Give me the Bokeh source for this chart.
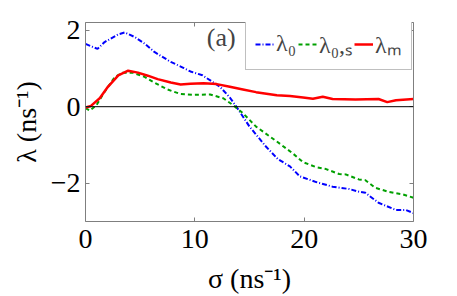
from bokeh.plotting import figure
from bokeh.models import (Range1d, FixedTicker, LinearAxis, Span, Legend, LegendItem,
                          Label, CustomJSTickFormatter)
from bokeh.embed import file_html
from bokeh.resources import INLINE

# ---- data ----
sigma_l0 = [0, 1.1, 1.75, 3.0, 3.6, 4.5, 5.4, 6.3, 7.8, 9.0, 9.6, 10.7, 12.3, 13.2, 13.8,
            15.0, 16.5, 17.6, 18.7, 19.6, 21.1, 22.6, 24.1, 25.0, 25.6, 26.8, 28.4, 29.3, 30]
lam_0 = [1.64, 1.51, 1.69, 1.89, 1.94, 1.82, 1.65, 1.43, 1.17, 1.01, 0.92, 0.82, 0.52, 0.24, 0.0,
         -0.52, -1.04, -1.37, -1.56, -1.82, -1.97, -2.09, -2.15, -2.22, -2.25, -2.51, -2.70, -2.70, -2.78]

sigma_l0s = [0, 0.4, 1.0, 1.75, 2.7, 3.4, 4.3, 5.4, 6.3, 7.5, 8.7, 9.9, 11.4, 12.6, 13.5, 14.4,
             15.6, 17.5, 19.0, 19.9, 21.1, 22.0, 23.2, 23.8, 25.0, 25.6, 26.5, 27.8, 29.0, 30]
lam_0s = [-0.04, -0.1, 0.04, 0.39, 0.78, 0.89, 0.89, 0.78, 0.63, 0.45, 0.33, 0.31, 0.32, 0.22, 0.04, -0.17,
          -0.52, -0.91, -1.23, -1.45, -1.58, -1.63, -1.76, -1.77, -1.90, -1.92, -2.12, -2.23, -2.29, -2.38]

sigma_lm = [0, 0.5, 1.3, 2.05, 3.0, 3.9, 4.8, 5.7, 6.6, 7.8, 8.7, 9.6, 10.8, 12.0, 13.2, 14.4,
            15.6, 17.5, 18.7, 19.9, 20.8, 21.7, 22.6, 24.7, 26.8, 27.6, 28.4, 30]
lam_m = [-0.02, 0.02, 0.22, 0.52, 0.82, 0.94, 0.89, 0.81, 0.72, 0.63, 0.58, 0.60, 0.61, 0.59, 0.52, 0.45,
         0.38, 0.30, 0.28, 0.24, 0.21, 0.26, 0.20, 0.19, 0.20, 0.12, 0.17, 0.20]

x_ticks = [0, 10, 20, 30]
y_ticks = [-2, 0, 2]
legend_labels = ["λ₀", "λ₀,ₛ", "λₘ"]

FONT = "Liberation Serif"
GRAY = "#7f7f7f"

p = figure(width=457, height=296, output_backend="svg", toolbar_location=None,
           x_range=Range1d(0, 30), y_range=Range1d(-3, 2.2),
           min_border_left=85, min_border_right=44, min_border_top=22, min_border_bottom=74)
p.grid.visible = False
p.outline_line_color = None
p.background_fill_color = "white"
p.border_fill_color = "white"

def style_axis(ax, ticks):
    ax.ticker = FixedTicker(ticks=ticks)
    ax.axis_line_color = GRAY
    ax.major_tick_line_color = GRAY
    ax.major_tick_in = 4
    ax.major_tick_out = 0
    ax.minor_tick_line_color = None
    ax.major_label_text_font = FONT
    ax.major_label_text_font_size = "28px"
    ax.major_label_text_color = "black"
    ax.axis_label_text_font = FONT
    ax.axis_label_text_font_size = "28px"
    ax.axis_label_text_font_style = "normal"
    ax.axis_label_text_color = "black"

xa = p.xaxis[0]
ya = p.yaxis[0]
style_axis(xa, x_ticks)
style_axis(ya, y_ticks)
xa.axis_label = "σ (ns⁻¹)"
ya.axis_label = "λ (ns⁻¹)"
xa.major_label_standoff = 8
ya.major_label_standoff = 5
xa.axis_label_standoff = 12
ya.axis_label_standoff = 6
ya.major_label_overrides = {-2: "−2"}

blank = CustomJSTickFormatter(code="return ''")
top = LinearAxis(formatter=blank, major_label_standoff=0)
right = LinearAxis(formatter=blank, major_label_standoff=0)
style_axis(top, x_ticks)
style_axis(right, y_ticks)
p.add_layout(top, "above")
p.add_layout(right, "right")

p.add_layout(Span(location=0, dimension="width", line_color="black", line_width=1))

r0 = p.line(sigma_l0, lam_0, line_color="#0000ff", line_width=2, line_dash="5 2 1 2")
r0s = p.line(sigma_l0s, lam_0s, line_color="#00a000", line_width=2, line_dash="4 3")
rm = p.line(sigma_lm, lam_m, line_color="#ff0000", line_width=2.5)

legend = Legend(items=[LegendItem(label=legend_labels[0], renderers=[r0]),
                       LegendItem(label=legend_labels[1], renderers=[r0s]),
                       LegendItem(label=legend_labels[2], renderers=[rm])],
                orientation="horizontal", location=(160, 151),
                glyph_width=19, glyph_height=20, label_standoff=2, spacing=2,
                padding=9, margin=0,
                label_text_font=FONT, label_text_font_size="24px",
                border_line_color=GRAY, border_line_width=1,
                background_fill_color="white", background_fill_alpha=1)
p.add_layout(legend, "center")

p.add_layout(Label(x=11.1, y=1.8, text="(a)", text_font=FONT, text_font_size="26px",
                   text_baseline="alphabetic"))

open("out.html", "w").write(file_html(p, INLINE))
